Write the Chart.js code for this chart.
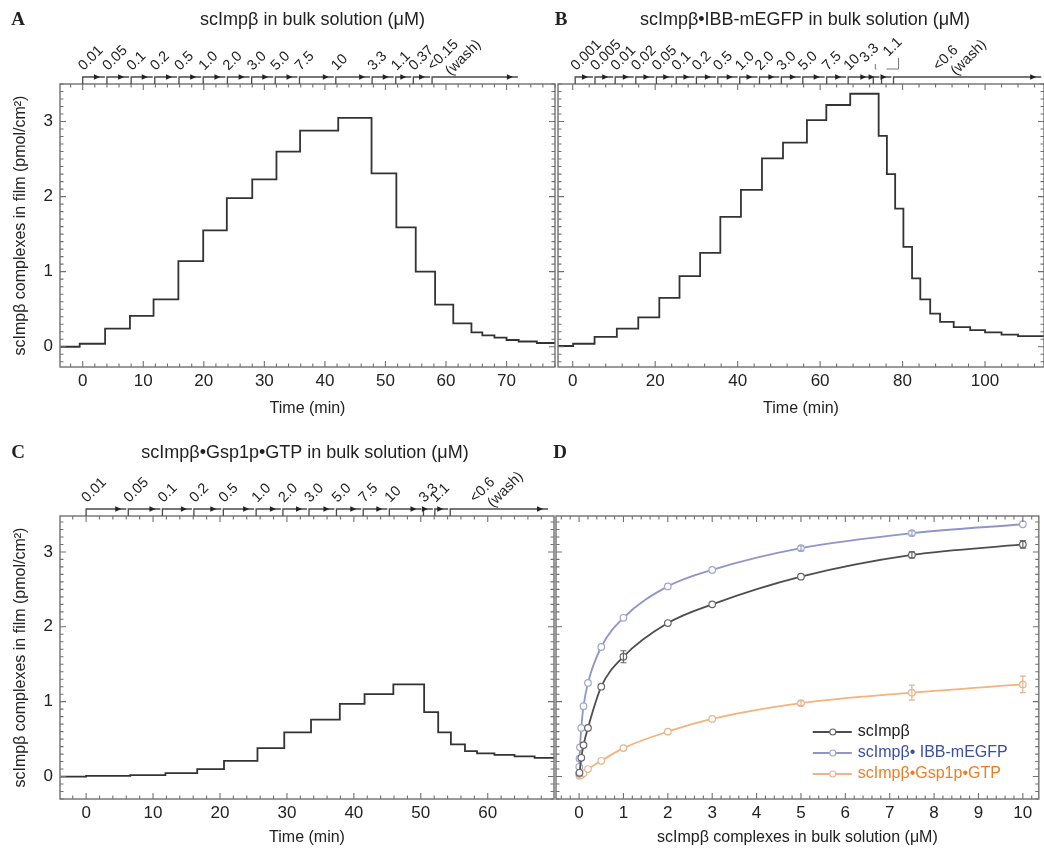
<!DOCTYPE html>
<html>
<head>
<meta charset="utf-8">
<script src="https://cdn.jsdelivr.net/npm/chart.js@4/dist/chart.umd.min.js"></script>
<style>
  html, body { margin: 0; padding: 0; background: #fff; width: 1044px; height: 851px; overflow: hidden; }
  canvas { position: absolute; }
</style>
</head>
<body>
<canvas id="cA" width="560" height="425" style="left:0;top:0"></canvas>
<canvas id="cB" width="544" height="425" style="left:500px;top:0"></canvas>
<canvas id="cC" width="560" height="419" style="left:0;top:432px"></canvas>
<canvas id="cD" width="544" height="419" style="left:500px;top:432px"></canvas>
<script>
// ---- panel A: scImpb film load vs time
const timeA = [-3.8, -0.5, 3.7, 7.8, 11.7, 15.8, 19.9, 23.8, 28.0, 32.0, 35.9, 42.2, 47.7, 51.8, 55.0, 58.2, 61.2, 64.2, 66, 68, 70, 72, 75, 78];
const filmA = [0.0, 0.04, 0.24, 0.41, 0.63, 1.14, 1.55, 1.98, 2.23, 2.60, 2.88, 3.05, 2.31, 1.59, 1.00, 0.56, 0.31, 0.19, 0.15, 0.12, 0.09, 0.07, 0.05, 0.04];
const concA = ['0.01', '0.05', '0.1', '0.2', '0.5', '1.0', '2.0', '3.0', '5.0', '7.5', '10', '3.3', '1.1', '0.37', '<0.15\n(wash)'];
const doseStartA = [0.0, 4.0, 8.0, 11.9, 15.9, 19.9, 23.9, 27.9, 31.8, 35.8, 41.8, 47.8, 51.7, 54.6, 57.7];
const doseEndA = 72.2;

// ---- panel B: scImpb.IBB-mEGFP
const timeB = [-4, 0.1, 5.3, 10.7, 15.9, 21.0, 25.9, 30.9, 35.8, 40.8, 45.9, 51.0, 56.8, 61.5, 67.3, 74.2, 76.2, 78.2, 80.2, 82.3, 84.3, 86.7, 89.1, 92.4, 96.4, 100, 104, 108, 114.5];
const filmB = [0.01, 0.04, 0.13, 0.24, 0.39, 0.65, 0.94, 1.25, 1.73, 2.09, 2.51, 2.72, 3.02, 3.22, 3.37, 2.81, 2.30, 1.84, 1.33, 0.91, 0.63, 0.44, 0.33, 0.26, 0.22, 0.19, 0.16, 0.14, 0.12];
const concB = ['0.001', '0.005', '0.01', '0.02', '0.05', '0.1', '0.2', '0.5', '1.0', '2.0', '3.0', '5.0', '7.5', '10', '3.3', '1.1', '<0.6\n(wash)'];
const doseStartB = [0.6, 5.4, 10.3, 15.3, 20.3, 25.1, 30.0, 35.2, 40.5, 45.3, 50.6, 55.8, 61.6, 66.8, 72.9, 74.9, 77.8];
const doseEndB = 114.1;

// ---- panel C: scImpb.Gsp1p.GTP
const timeC = [-4, 0, 6.6, 11.85, 16.6, 20.6, 25.6, 29.6, 33.6, 37.9, 41.6, 45.9, 50.5, 52.6, 54.5, 56.6, 58.4, 61, 64, 67, 70.5];
const filmC = [0.0, 0.01, 0.02, 0.045, 0.10, 0.21, 0.38, 0.59, 0.76, 0.97, 1.10, 1.23, 0.86, 0.59, 0.43, 0.34, 0.31, 0.29, 0.27, 0.25, 0.24];
const concC = ['0.01', '0.05', '0.1', '0.2', '0.5', '1.0', '2.0', '3.0', '5.0', '7.5', '10', '3.3', '1.1', '<0.6\n(wash)'];
const doseStartC = [0, 6.3, 11.4, 16.1, 20.5, 25.4, 29.4, 33.3, 37.4, 41.4, 45.3, 50.4, 52.1, 54.4];
const doseEndC = 69.3;

// ---- panel D: binding isotherms
const concImp = [0.01, 0.05, 0.1, 0.2, 0.5, 1, 2, 3, 5, 7.5, 10];
const filmImp = [0.05, 0.25, 0.42, 0.65, 1.2, 1.6, 2.05, 2.3, 2.67, 2.96, 3.1];
const errImp = [0, 0, 0, 0, 0, 0.08, 0, 0, 0, 0.04, 0.05];
const concIbb = [0.001, 0.005, 0.01, 0.02, 0.05, 0.1, 0.2, 0.5, 1, 2, 3, 5, 7.5, 10];
const filmIbb = [0.04, 0.13, 0.24, 0.39, 0.65, 0.94, 1.25, 1.73, 2.12, 2.54, 2.76, 3.05, 3.25, 3.37];
const errIbb = [0, 0, 0, 0, 0, 0, 0, 0, 0, 0, 0, 0.03, 0.03, 0];
const concGsp = [0.01, 0.05, 0.1, 0.2, 0.5, 1, 2, 3, 5, 7.5, 10];
const filmGsp = [0.01, 0.02, 0.045, 0.10, 0.21, 0.38, 0.6, 0.77, 0.98, 1.12, 1.23];
const errGsp = [0, 0, 0, 0, 0, 0, 0, 0, 0.03, 0.1, 0.11];
const legendD = ['scImpβ', 'scImpβ• IBB-mEGFP', 'scImpβ•Gsp1p•GTP'];

const FONT = '"Liberation Sans", Arial, Helvetica, sans-serif';
Chart.defaults.font.family = FONT;
Chart.defaults.color = '#222';

const pts = (xs, ys) => xs.map((v, i) => ({ x: v, y: ys[i] }));

function stepsIn(scale, step) {
  const out = [];
  const k0 = Math.ceil(scale.min / step - 1e-9), k1 = Math.floor(scale.max / step + 1e-9);
  for (let k = k0; k <= k1; k++) out.push(k * step);
  return out;
}
const isMult = (v, m) => Math.abs(v / m - Math.round(v / m)) < 1e-6;

// frame with inward ticks, title, panel letter, dose arrows, legend, error bars
function decor(o) {
  return {
    id: 'decor',
    afterDatasetsDraw(chart) {
      if (!o.errors) return;
      const ctx = chart.ctx, x = chart.scales.x, y = chart.scales.y;
      ctx.save();
      o.errors.forEach((errs, di) => {
        const ds = chart.data.datasets[di];
        ctx.strokeStyle = ds.pointBorderColor; ctx.lineWidth = 1.2;
        errs.forEach((e, i) => {
          if (!e) return;
          const p = ds.data[i], px = x.getPixelForValue(p.x);
          const y0 = y.getPixelForValue(p.y - e), y1 = y.getPixelForValue(p.y + e);
          ctx.beginPath();
          ctx.moveTo(px, y0); ctx.lineTo(px, y1);
          ctx.moveTo(px - 3, y0); ctx.lineTo(px + 3, y0);
          ctx.moveTo(px - 3, y1); ctx.lineTo(px + 3, y1);
          ctx.stroke();
        });
      });
      ctx.restore();
    },
    afterDraw(chart) {
      const ctx = chart.ctx, a = chart.chartArea, x = chart.scales.x, y = chart.scales.y;
      ctx.save();
      ctx.strokeStyle = '#707070';
      ctx.lineWidth = 1.4;
      ctx.strokeRect(a.left, a.top, a.right - a.left, a.bottom - a.top);
      ctx.lineWidth = 1.1;
      ctx.beginPath();
      stepsIn(x, o.xMinor).forEach(v => {
        const p = x.getPixelForValue(v);
        const len = isMult(v, o.xMajor) ? 6 : 3.5;
        ctx.moveTo(p, a.bottom); ctx.lineTo(p, a.bottom - len);
        ctx.moveTo(p, a.top); ctx.lineTo(p, a.top + len);
      });
      stepsIn(y, 0.1).forEach(v => {
        const p = y.getPixelForValue(v);
        const len = isMult(v, 1) ? 6 : 3.5;
        ctx.moveTo(a.left, p); ctx.lineTo(a.left + len, p);
        ctx.moveTo(a.right, p); ctx.lineTo(a.right - len, p);
      });
      ctx.stroke();

      ctx.fillStyle = '#222';
      ctx.textBaseline = 'middle';
      ctx.textAlign = 'center';
      if (o.title) {
        ctx.font = '18px ' + FONT;
        ctx.fillText(o.title, (a.left + a.right) / 2 + (o.titleDx || 0), o.titleY);
      }
      ctx.font = 'bold 19px "Liberation Serif", "Times New Roman", serif';
      ctx.fillText(o.letter, o.letterX, o.titleY);

      if (o.dose) {
        const d = o.dose, ly = a.top - 7;
        d.starts.forEach((s, i) => {
          const xs = x.getPixelForValue(s);
          const next = i + 1 < d.starts.length ? d.starts[i + 1] : d.end;
          const xe = x.getPixelForValue(next) - 2;
          ctx.strokeStyle = '#4a4a4a'; ctx.lineWidth = 1.3;
          ctx.beginPath();
          ctx.moveTo(xs, a.top); ctx.lineTo(xs, ly); ctx.lineTo(xe, ly);
          ctx.stroke();
          const tip = xe - 5;
          ctx.fillStyle = '#222';
          ctx.beginPath();
          ctx.moveTo(tip, ly); ctx.lineTo(tip - 6, ly - 2.8); ctx.lineTo(tip - 6, ly + 2.8);
          ctx.closePath(); ctx.fill();

          const sh = (d.shift && d.shift[i]) || {};
          const lx = xs + 1 + (sh.dx || 0), lb = ly - 6 + (sh.dy || 0);
          if (sh.bracket) {
            const bx = lx + 10;
            ctx.strokeStyle = '#777'; ctx.lineWidth = 1;
            ctx.beginPath();
            ctx.moveTo(bx, lb + 1); ctx.lineTo(bx, ly - 8); ctx.lineTo((xs + xe) / 2, ly - 8);
            ctx.stroke();
          }
          ctx.save();
          ctx.translate(lx, lb);
          ctx.rotate(-Math.PI / 4);
          ctx.font = '14.5px ' + FONT;
          ctx.textAlign = 'left'; ctx.textBaseline = 'alphabetic';
          d.labels[i].split('\n').forEach((t, j) => ctx.fillText(t, j * 9, j * 16));
          ctx.restore();
        });
      }

      if (o.legend) {
        const lx = a.right - 226, ly0 = a.bottom - 67;
        chart.data.datasets.forEach((ds, i) => {
          const yy = ly0 + i * 21;
          ctx.strokeStyle = ds.borderColor; ctx.lineWidth = 2;
          ctx.beginPath(); ctx.moveTo(lx, yy); ctx.lineTo(lx + 39, yy); ctx.stroke();
          ctx.fillStyle = '#fff'; ctx.strokeStyle = ds.pointBorderColor; ctx.lineWidth = 1.2;
          ctx.beginPath(); ctx.arc(lx + 20, yy, 3, 0, Math.PI * 2); ctx.fill(); ctx.stroke();
          ctx.fillStyle = o.legendColors[i];
          ctx.font = '16px ' + FONT;
          ctx.textAlign = 'left'; ctx.textBaseline = 'middle';
          ctx.fillText(o.legend[i], lx + 45, yy);
        });
      }
      ctx.restore();
    }
  };
}

function makeChart(id, datasets, c) {
  return new Chart(document.getElementById(id), {
    type: 'line',
    data: { datasets },
    options: {
      responsive: false,
      animation: false,
      layout: { padding: { top: 84, right: c.padRight, left: 0, bottom: 0 } },
      scales: {
        x: {
          type: 'linear', min: c.xmin, max: c.xmax,
          afterFit: s => { s.height = c.xh; },
          grid: { display: false, drawTicks: false }, border: { display: false },
          ticks: { stepSize: c.xstep, includeBounds: false, autoSkip: false, maxRotation: 0, padding: 4, color: '#222', font: { size: 17 } },
          title: { display: true, text: c.xtitle, color: '#222', font: { size: 16 }, padding: { top: 0, bottom: c.xtb } }
        },
        y: {
          type: 'linear', min: c.ymin, max: c.ymax,
          afterFit: s => { s.width = c.yw; },
          grid: { display: false, drawTicks: false }, border: { display: false },
          ticks: { display: c.ylabels, stepSize: 1, includeBounds: false, padding: 7, color: '#222', font: { size: 17 } },
          title: { display: c.ylabels, text: 'scImpβ complexes in film (pmol/cm²)', color: '#222', font: { size: 16 }, padding: { top: 11, bottom: 0 } }
        }
      },
      plugins: { legend: { display: false }, tooltip: { enabled: false } }
    },
    plugins: [decor(c.decor)]
  });
}

// each level holds from its own time until the next time
const trace = (xs, ys) => ({
  data: pts(xs, ys), stepped: 'before', borderColor: '#333', borderWidth: 1.8, pointRadius: 0, fill: false
});

makeChart('cA', [trace(timeA, filmA)], {
  xmin: -3.75, xmax: 78.0, xstep: 10, xh: 58, xtb: 6.4, xtitle: 'Time (min)',
  ymin: -0.27, ymax: 3.5, yw: 60, ylabels: true, padRight: 5,
  decor: { xMajor: 10, xMinor: 2, title: 'scImpβ in bulk solution (μM)', titleDx: 5, titleY: 20, letter: 'A', letterX: 18,
    dose: { starts: doseStartA, end: doseEndA, labels: concA } }
});

makeChart('cB', [trace(timeB, filmB)], {
  xmin: -3.57, xmax: 114.3, xstep: 20, xh: 58, xtb: 6.4, xtitle: 'Time (min)',
  ymin: -0.27, ymax: 3.5, yw: 58, ylabels: false, padRight: 0,
  decor: { xMajor: 20, xMinor: 4, title: 'scImpβ•IBB-mEGFP in bulk solution (μM)', titleDx: 4, titleY: 20, letter: 'B', letterX: 61,
    dose: { starts: doseStartB, end: doseEndB, labels: concB,
      shift: { 14: { dx: -9, dy: -8, bracket: true }, 15: { dx: 6, dy: -14, bracket: true }, 16: { dx: 44 } } } }
});

makeChart('cC', [trace(timeC, filmC)], {
  xmin: -3.9, xmax: 69.9, xstep: 10, xh: 52, xtb: 3.4, xtitle: 'Time (min)',
  ymin: -0.3, ymax: 3.48, yw: 60, ylabels: true, padRight: 6,
  decor: { xMajor: 10, xMinor: 2, title: 'scImpβ•Gsp1p•GTP in bulk solution (μM)', titleDx: -2, titleY: 21, letter: 'C', letterX: 18,
    dose: { starts: doseStartC, end: doseEndC, labels: concC, shift: { 13: { dx: 24 } } } }
});

const fitLine = (xs, ys, line, mark) => ({
  data: pts(xs, ys), borderColor: line, borderWidth: 1.8, cubicInterpolationMode: 'monotone',
  pointRadius: 3.3, pointBackgroundColor: '#fff', pointBorderColor: mark, pointBorderWidth: 1.2, fill: false
});

makeChart('cD', [
  fitLine(concImp, filmImp, '#4d4d4d', '#666'),
  fitLine(concIbb, filmIbb, '#9095c8', '#a0a6cc'),
  fitLine(concGsp, filmGsp, '#f4b27c', '#e6b48e')
], {
  xmin: -0.52, xmax: 10.36, xstep: 1, xh: 52, xtb: 3.4, xtitle: 'scImpβ complexes in bulk solution (μM)',
  ymin: -0.3, ymax: 3.48, yw: 56, ylabels: false, padRight: 1,
  decor: { xMajor: 1, xMinor: 0.2, titleY: 21, letter: 'D', letterX: 60,
    errors: [errImp, errIbb, errGsp],
    legend: legendD, legendColors: ['#222', '#3a4ea3', '#f07d22'] }
});
</script>
</body>
</html>
